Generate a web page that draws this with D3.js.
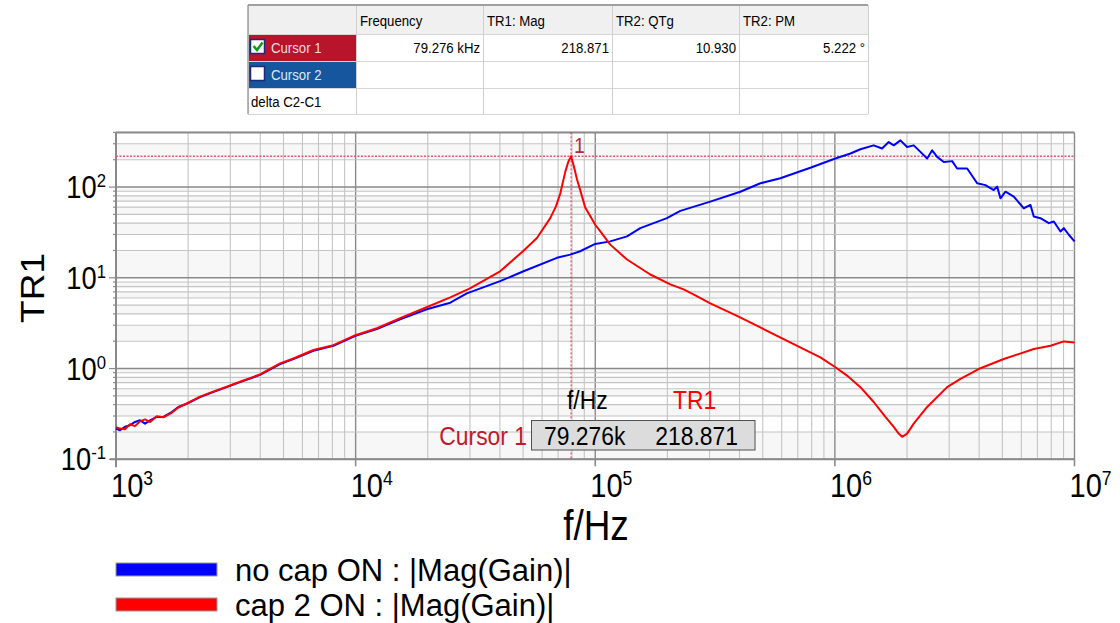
<!DOCTYPE html>
<html>
<head>
<meta charset="utf-8">
<script src="https://cdn.jsdelivr.net/npm/d3@7"></script>
<style>
  body { margin: 0; background: #fff; }
  svg { display: block; font-family: Arial, "Liberation Sans", sans-serif; }
</style>
</head>
<body>
<svg id="chart" width="1120" height="623"></svg>
<script>
// ---- data ----
const blueName = "no cap ON : |Mag(Gain)|";
const redName = "cap 2 ON : |Mag(Gain)|";

const blueFreq = [1000,1039,1090,1144,1200,1260,1322,1387,1479,1576,1708,1820,1972,2243,2541,2897,3294,3990,4840,5497,6665,8075,9981,12260,15340,19820,24830,29110,40090,50200,69180,78640,86500,100000,115500,135650,154200,199100,226500,302000,403000,488700,592200,790000,1005000,1161000,1278000,1452000,1574000,1677000,1760000,1877000,2002000,2133000,2275000,2427000,2547000,2672000,2847000,3086000,3237000,3565000,3925000,4250000,4603000,4756000,4909000,5152000,5580000,6140000,6551000,6761000,7211000,7812000,8197000,8741000,9023000,9467000,10000000];
const blueMag = [0.218,0.209,0.228,0.237,0.258,0.269,0.247,0.269,0.293,0.293,0.332,0.377,0.409,0.485,0.550,0.624,0.708,0.851,1.12,1.27,1.57,1.78,2.29,2.72,3.49,4.50,5.32,6.73,9.18,11.8,16.6,18.0,19.6,23.6,25.2,28.6,35.3,45.4,54.6,69.0,88.8,110,125,163,206,234,261,288,266,313,288,327,276,288,244,206,254,215,189,193,160,160,110,105,92.7,101,75.2,88.8,78.3,58.4,63.5,47.3,45.4,40.0,41.7,32.4,35.3,29.8,25.2];

const redFreq = [1000,1039,1090,1144,1200,1260,1322,1387,1479,1576,1708,1820,1972,2243,2541,2897,3294,3990,4840,5497,6665,8075,9981,12260,15340,20000,24830,30000,40090,50200,57100,64870,68500,71450,74960,77200,79276,81300,83880,86500,90800,100000,105000,115500,135650,169700,205700,233800,257000,302000,390600,488700,673000,869900,1005000,1124000,1278000,1452000,1625000,1760000,1846000,1908000,2002000,2133000,2427000,2941000,3342000,4050000,5068000,6761000,7940000,9023000,10000000];
const redMag = [0.226,0.218,0.214,0.243,0.232,0.262,0.275,0.257,0.299,0.290,0.325,0.372,0.412,0.49,0.556,0.63,0.715,0.86,1.14,1.29,1.60,1.81,2.33,2.78,3.6,4.8,6.08,7.64,11.8,19.9,27.4,45.4,60.8,85,147,190,218.871,172,122,93,59.6,38.4,32.4,23.2,15.9,10.87,8.45,7.45,6.56,5.23,3.80,2.835,1.86,1.33,1.033,0.836,0.624,0.428,0.293,0.2275,0.192,0.1768,0.192,0.247,0.377,0.624,0.769,1.008,1.274,1.64,1.78,1.99,1.94];

// cursor readout
const cursorFreq = 79276;
const cursorMag = 218.871;
const cursorFreqText = "79.276k";
const cursorMagText = "218.871";

// cursor table
const tableHeaders = ["", "Frequency", "TR1: Mag", "TR2: QTg", "TR2: PM"];
const tableRows = ["Cursor 1", "Cursor 2", "delta C2-C1"];
const cursor1Values = ["79.276 kHz", "218.871", "10.930", "5.222 °"];

const xTicks = [1e3, 1e4, 1e5, 1e6, 1e7];
const xExp = ["3", "4", "5", "6", "7"];
const yTicks = [1e2, 1e1, 1e0, 1e-1];
const yExp = ["2", "1", "0", "-1"];

// ---- setup ----
const SQ = 0.88; // the screenshot text is a bit narrow
const svg = d3.select("#chart");

const x = d3.scaleLog().domain([1e3, 1e7]).range([116, 1074.5]);
const y = d3.scaleLog().domain([0.1, 400]).range([459.3, 132.4]);
const [x0, x1] = x.range();
const [yb, yt] = y.range();

// helper for squeezed text
function label(g, px, py, str, size, color, anchor, sq) {
  return g.append("text")
    .attr("transform", `translate(${px},${py}) scale(${sq || SQ},1)`)
    .attr("text-anchor", anchor || "start")
    .attr("font-size", size)
    .attr("fill", color || "#000")
    .text(str);
}

// ---- alternating bands ----
const yt_ = y.ticks();
const bands = svg.append("g");
for (let i = 0; i < yt_.length; i++) {
  const lo = yt_[i];
  const hi = i + 1 < yt_.length ? yt_[i + 1] : 400;
  if (i % 2 === 0) {
    bands.append("rect")
      .attr("x", x0).attr("width", x1 - x0)
      .attr("y", y(hi)).attr("height", y(lo) - y(hi))
      .attr("fill", "#f7f7f7");
  }
}

// ---- grid ----
const isMajor = (v) => Math.abs(Math.log10(v) - Math.round(Math.log10(v))) < 1e-6;
const grid = svg.append("g");
grid.selectAll(".vx").data(x.ticks()).enter().append("line")
  .attr("x1", (d) => x(d)).attr("x2", (d) => x(d))
  .attr("y1", yt).attr("y2", yb)
  .attr("stroke", (d) => (isMajor(d) ? "#8a8a8a" : "#c4c4c4"))
  .attr("stroke-width", (d) => (isMajor(d) ? 1.4 : 1.1));
grid.selectAll(".hy").data(y.ticks()).enter().append("line")
  .attr("x1", x0).attr("x2", x1)
  .attr("y1", (d) => y(d)).attr("y2", (d) => y(d))
  .attr("stroke", (d) => (isMajor(d) ? "#8a8a8a" : "#c4c4c4"))
  .attr("stroke-width", (d) => (isMajor(d) ? 1.4 : 1.1));

// frame
grid.append("line").attr("x1", x0).attr("x2", x1).attr("y1", yt).attr("y2", yt).attr("stroke", "#8a8a8a").attr("stroke-width", 2);
grid.append("line").attr("x1", x0).attr("x2", x0).attr("y1", yt).attr("y2", yb + 8).attr("stroke", "#8a8a8a").attr("stroke-width", 2);
grid.append("line").attr("x1", x0 - 6).attr("x2", x1).attr("y1", yb).attr("y2", yb).attr("stroke", "#8a8a8a").attr("stroke-width", 2);

// left ticks
grid.selectAll(".ly").data(y.ticks()).enter().append("line")
  .attr("x1", (d) => x0 - (isMajor(d) ? 7 : 3)).attr("x2", x0)
  .attr("y1", (d) => y(d)).attr("y2", (d) => y(d))
  .attr("stroke", "#8a8a8a").attr("stroke-width", 1.2);
// bottom ticks
grid.selectAll(".bx").data(xTicks).enter().append("line")
  .attr("x1", (d) => x(d)).attr("x2", (d) => x(d))
  .attr("y1", yb).attr("y2", yb + 7)
  .attr("stroke", "#8a8a8a").attr("stroke-width", 1.6);

// ---- cursor lines ----
const cur = svg.append("g");
cur.append("line")
  .attr("x1", x(cursorFreq)).attr("x2", x(cursorFreq))
  .attr("y1", yt).attr("y2", yb)
  .attr("stroke", "#e02840").attr("stroke-width", 1).attr("stroke-dasharray", "2,2");
cur.append("line")
  .attr("x1", x0).attr("x2", x1)
  .attr("y1", y(cursorMag)).attr("y2", y(cursorMag))
  .attr("stroke", "#e05a6e").attr("stroke-width", 1.5).attr("stroke-dasharray", "2,1.5");
label(cur, x(cursorFreq) + 3, y(cursorMag) - 3, "1", 22, "#b3283a");

// ---- curves ----
const line = d3.line().x((d) => x(d[0])).y((d) => y(d[1]));
svg.append("path")
  .datum(d3.zip(blueFreq, blueMag))
  .attr("d", line).attr("fill", "none")
  .attr("stroke", "#0000ff").attr("stroke-width", 2).attr("stroke-linejoin", "round");
svg.append("path")
  .datum(d3.zip(redFreq, redMag))
  .attr("d", line).attr("fill", "none")
  .attr("stroke", "#ff0000").attr("stroke-width", 2).attr("stroke-linejoin", "round");

// ---- cursor readout ----
const ro = svg.append("g");
ro.append("rect").attr("x", 531.5).attr("y", 420.5).attr("width", 223.5).attr("height", 29.5)
  .attr("fill", "#dcdcdc").attr("stroke", "#505050").attr("stroke-width", 1);
label(ro, 567, 409, "f/Hz", 26, "#000");
label(ro, 673, 409, "TR1", 26, "#ff0000");
label(ro, 527, 445, "Cursor 1", 26, "#c0182e", "end");
label(ro, 544, 445, cursorFreqText, 26, "#000");
label(ro, 738, 445, cursorMagText, 26, "#000", "end");

// ---- axis labels ----
const ax = svg.append("g");
xTicks.forEach((t, i) => {
  const tx = ax.append("text")
    .attr("transform", `translate(${x(t) - 5},497) scale(${SQ},1)`)
    .attr("font-size", 33).attr("fill", "#000");
  tx.append("tspan").text("10");
  tx.append("tspan").attr("font-size", 20).attr("dy", -12).text(xExp[i]);
});
yTicks.forEach((t, i) => {
  const ty = ax.append("text")
    .attr("transform", `translate(106,${y(t) + 11}) scale(${SQ},1)`)
    .attr("text-anchor", "end")
    .attr("font-size", 31).attr("fill", "#000");
  ty.append("tspan").text("10");
  ty.append("tspan").attr("font-size", 19).attr("dy", -11).text(yExp[i]);
});

ax.append("text")
  .attr("transform", `translate(44,288) scale(${SQ},1) rotate(-90)`)
  .attr("text-anchor", "middle").attr("font-size", 37).attr("fill", "#000")
  .text("TR1");
label(ax, 596, 540, "f/Hz", 42, "#000", "middle");

// ---- legend ----
const lg = svg.append("g");
[[blueName, "#0000ff"], [redName, "#ff0000"]].forEach(([name, col], i) => {
  const yy = 563 + i * 35;
  lg.append("rect").attr("x", 116).attr("y", yy).attr("width", 101).attr("height", 13)
    .attr("fill", col).attr("stroke", "#9a9a9a").attr("stroke-width", 1);
  label(lg, 235, yy + 18, name, 31, "#000", "start", 1);
});

// ---- cursor table ----
const cols = [248, 356, 483, 612, 739, 868];
const rows = [5, 34, 61, 88, 114];
const tb = svg.append("g");
tb.append("rect").attr("x", cols[0]).attr("y", rows[0]).attr("width", cols[5] - cols[0]).attr("height", rows[1] - rows[0]).attr("fill", "#f0f0f0");
tb.append("rect").attr("x", cols[0]).attr("y", rows[1]).attr("width", cols[1] - cols[0]).attr("height", rows[2] - rows[1]).attr("fill", "#b8142c");
tb.append("rect").attr("x", cols[0]).attr("y", rows[2]).attr("width", cols[1] - cols[0]).attr("height", rows[3] - rows[2]).attr("fill", "#15569f");
rows.slice(1).forEach((r) => {
  tb.append("line").attr("x1", cols[0]).attr("x2", cols[5]).attr("y1", r + 0.5).attr("y2", r + 0.5).attr("stroke", "#d6d6d6");
});
cols.forEach((c) => {
  tb.append("line").attr("x1", c + 0.5).attr("x2", c + 0.5).attr("y1", rows[0]).attr("y2", rows[4]).attr("stroke", "#cfcfcf");
});
tb.append("line").attr("x1", cols[0]).attr("x2", cols[5]).attr("y1", rows[0]).attr("y2", rows[0]).attr("stroke", "#a0a0a0").attr("stroke-width", 2);
tb.append("line").attr("x1", cols[0]).attr("x2", cols[0]).attr("y1", rows[0]).attr("y2", rows[4]).attr("stroke", "#a0a0a0").attr("stroke-width", 1.5);

tableHeaders.forEach((h, i) => {
  if (h) label(tb, cols[i] + 4, 26, h, 15, "#000");
});
// checkboxes
[0, 1].forEach((i) => {
  tb.append("rect").attr("x", 250.5).attr("y", rows[i + 1] + 5.5).attr("width", 14).attr("height", 14)
    .attr("fill", "#fff").attr("stroke", "#1c2b78").attr("stroke-width", 1.5);
});
tb.append("path").attr("d", `M253.5,${rows[1] + 12} L257,${rows[1] + 16} L262.5,${rows[1] + 8.5}`)
  .attr("fill", "none").attr("stroke", "#129a12").attr("stroke-width", 2.6);
label(tb, 271, rows[1] + 19, tableRows[0], 15, "#f7d9de");
label(tb, 271, rows[2] + 19, tableRows[1], 15, "#dfe9f6");
label(tb, 251, rows[3] + 19, tableRows[2], 15, "#000");
cursor1Values.forEach((v, i) => {
  label(tb, cols[i + 2] - 3, rows[1] + 19, v, 15, "#000", "end");
});
</script>
</body>
</html>
